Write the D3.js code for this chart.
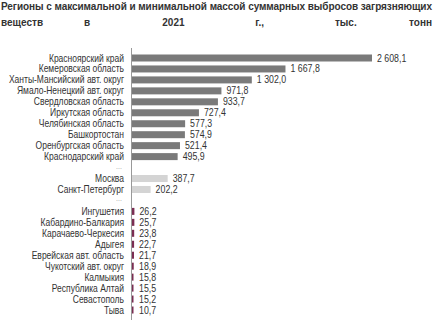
<!DOCTYPE html>
<html>
<head>
<meta charset="utf-8">
<script src="https://cdn.jsdelivr.net/npm/d3@7"></script>
<style>
  body { margin: 0; background: #fff; }
  svg { font-family: "Liberation Sans", Arial, sans-serif; }
</style>
</head>
<body>
<div id="chart"></div>
<script>
document.addEventListener('DOMContentLoaded', () => {
    const topRegions = ['Красноярский край', 'Кемеровская область', 'Ханты-Мансийский авт. округ',
        'Ямало-Ненецкий авт. округ', 'Свердловская область', 'Иркутская область',
        'Челябинская область', 'Башкортостан', 'Оренбургская область', 'Краснодарский край'];
    const topValues = [2608.1, 1667.8, 1302.0, 971.8, 933.7, 727.4, 577.3, 574.9, 521.4, 495.9];

    const cityRegions = ['Москва', 'Санкт-Петербург'];
    const cityValues = [387.7, 202.2];

    const lowRegions = ['Ингушетия', 'Кабардино-Балкария', 'Карачаево-Черкесия', 'Адыгея',
        'Еврейская авт. область', 'Чукотский авт. округ', 'Калмыкия', 'Республика Алтай',
        'Севастополь', 'Тыва'];
    const lowValues = [26.2, 25.7, 23.8, 22.7, 21.7, 18.9, 15.8, 15.5, 15.2, 10.7];

    const titleLine1 = 'Регионы с максимальной и минимальной массой суммарных выбросов загрязняющих';
    const titleLine2 = ['веществ', 'в', '2021', 'г.,', 'тыс.', 'тонн'];

    const width = 433;
    const height = 320;
    const squeeze = 0.85; // condensed look of the original labels

    const rows = [];
    topRegions.forEach((r, i) => rows.push({ key: r, value: topValues[i], group: 'top' }));
    rows.push({ key: 'gap1', gap: true });
    cityRegions.forEach((r, i) => rows.push({ key: r, value: cityValues[i], group: 'city' }));
    rows.push({ key: 'gap2', gap: true });
    lowRegions.forEach((r, i) => rows.push({ key: r, value: lowValues[i], group: 'low' }));

    const color = d3.scaleOrdinal()
        .domain(['top', 'city', 'low'])
        .range(['#7a7a7a', '#d4d4d4', '#7b2d52']);

    const axisX = 131;
    const x = d3.scaleLinear()
        .domain([0, 2608.1])
        .range([axisX, 371]);

    const y = d3.scalePoint()
        .domain(rows.map(d => d.key))
        .range([58, 310]);

    const svg = d3.select('#chart')
        .append('svg')
        .attr('width', width)
        .attr('height', height);

    // title
    svg.append('text')
        .attr('x', 1)
        .attr('y', 10)
        .attr('textLength', 431)
        .attr('lengthAdjust', 'spacing')
        .style('font-size', '10px')
        .style('font-weight', 'bold')
        .attr('fill', '#333')
        .text(titleLine1);

    const wordX = d3.scalePoint()
        .domain(titleLine2)
        .range([0, 1]);

    svg.selectAll('.title2')
        .data(titleLine2)
        .enter()
        .append('text')
        .attr('class', 'title2')
        .attr('x', d => 1 + wordX(d) * 431)
        .attr('y', 26)
        .attr('text-anchor', (d, i) => i === 0 ? 'start' : (i === titleLine2.length - 1 ? 'end' : 'middle'))
        .style('font-size', '10px')
        .style('font-weight', 'bold')
        .attr('fill', '#333')
        .text(d => d);

    const bars = rows.filter(d => !d.gap);
    const barH = 7;

    svg.selectAll('.bar')
        .data(bars)
        .enter()
        .append('rect')
        .attr('class', 'bar')
        .attr('x', x(0) + 1)
        .attr('y', d => y(d.key) - barH / 2)
        .attr('width', d => Math.max(1.5, x(d.value) - x(0)))
        .attr('height', barH)
        .attr('fill', d => color(d.group));

    svg.selectAll('.cat')
        .data(bars)
        .enter()
        .append('text')
        .attr('class', 'cat')
        .attr('transform', d => `translate(124,${y(d.key)}) scale(${squeeze},1)`)
        .attr('dy', '0.35em')
        .attr('text-anchor', 'end')
        .style('font-size', '10px')
        .attr('fill', '#333')
        .text(d => d.key);

    const fmt = v => {
        const s = v.toFixed(1).replace('.', ',');
        const [a, b] = s.split(',');
        return a.replace(/\B(?=(\d{3})+(?!\d))/g, ' ') + ',' + b;
    };

    svg.selectAll('.val')
        .data(bars)
        .enter()
        .append('text')
        .attr('class', 'val')
        .attr('transform', d => `translate(${Math.max(x(d.value), x(0) + 2) + 6},${y(d.key)}) scale(${squeeze + 0.03},1)`)
        .attr('dy', '0.35em')
        .style('font-size', '10px')
        .attr('fill', '#333')
        .text(d => fmt(d.value));

    svg.selectAll('.dots')
        .data(rows.filter(d => d.gap))
        .enter()
        .append('text')
        .attr('class', 'dots')
        .attr('x', 119)
        .attr('y', d => y(d.key) + 1)
        .attr('text-anchor', 'middle')
        .style('font-size', '7px')
        .attr('fill', '#999')
        .text('...');

    svg.append('line')
        .attr('x1', axisX + 0.5)
        .attr('x2', axisX + 0.5)
        .attr('y1', 48)
        .attr('y2', height)
        .attr('stroke', '#999')
        .attr('stroke-width', 1);
});
</script>
</body>
</html>
